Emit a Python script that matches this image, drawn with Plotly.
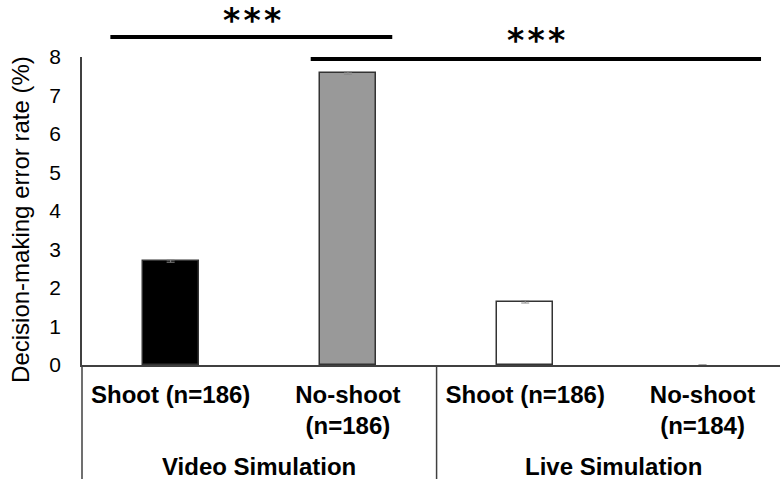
import plotly.graph_objects as go

categories = ["Shoot (n=186)", "No-shoot<br>(n=186)", "Shoot (n=186)", "No-shoot<br>(n=184)"]
cat_ids = [0, 1, 2, 3]
values = [2.70, 7.58, 1.64, 0.0]
errors = [0.03, 0.03, 0.03, 0.0]
bar_colors = ["#000000", "#999999", "#ffffff", "#ffffff"]
groups = ["Video Simulation", "Live Simulation"]
group_pos = [0.5, 2.5]
y_ticks = [0, 1, 2, 3, 4, 5, 6, 7, 8]
y_title = "Decision-making error rate (%)"

FONT = "Liberation Sans, Arial, sans-serif"
AX = "#404040"

fig = go.Figure()
fig.add_trace(go.Bar(
    x=cat_ids, y=values, width=0.316,
    marker=dict(color=bar_colors, line=dict(color="#333333", width=[1.5, 1.5, 1.5, 0])),
    error_y=dict(type="data", array=errors, color="#888888", thickness=1, width=4),
    showlegend=False,
))

fig.update_layout(
    width=780, height=479,
    margin=dict(l=82, r=0, t=57, b=114, autoexpand=False),
    paper_bgcolor="white", plot_bgcolor="white",
    font=dict(family=FONT, color="black"),
    bargap=0,
)
fig.update_xaxes(
    range=[-0.5, 3.437], tickmode="array", tickvals=cat_ids,
    ticktext=["<b>%s</b>" % c for c in categories],
    tickfont=dict(size=24, family=FONT, color="black"),
    showline=True, linecolor=AX, linewidth=1.5, ticks="", showgrid=False,
    zeroline=False, ticklabelstandoff=7, automargin=False,
)
fig.update_yaxes(
    range=[0, 8], tickvals=y_ticks, tickfont=dict(size=21, family=FONT, color="black"),
    showline=True, linecolor=AX, linewidth=1.5, ticks="", showgrid=False, zeroline=False,
    ticklabelstandoff=15, automargin=False,
)
fig.add_annotation(x=-61 / 698, xref="paper", y=0.471, yref="paper", text=y_title,
                   textangle=-90, showarrow=False,
                   font=dict(size=24, family=FONT, color="black"),
                   xanchor="center", yanchor="middle")

# group dividers
fig.add_shape(type="line", xref="paper", yref="paper", x0=0, x1=0, y0=0, y1=-0.375,
              line=dict(color=AX, width=1.5))
fig.add_shape(type="line", xref="x", yref="paper", x0=1.5, x1=1.5, y0=0, y1=-0.375,
              line=dict(color=AX, width=1.5))

for g, p in zip(groups, group_pos):
    fig.add_annotation(x=p, xref="x", y=-0.331, yref="paper", text="<b>%s</b>" % g,
                       showarrow=False, font=dict(size=24, family=FONT, color="black"),
                       yanchor="middle")

# significance brackets: (x0, x1, line y, star x, star y)
sig = [(-0.34, 1.25, 1.065, 0.46, 1.118), (0.79, 3.33, 0.9935, 2.06, 1.052)]
for x0, x1, yl, xs, ys in sig:
    fig.add_shape(type="line", xref="x", yref="paper", x0=x0, x1=x1, y0=yl, y1=yl,
                  line=dict(color="black", width=4))
    fig.add_annotation(x=xs, xref="x", y=ys, yref="paper",
                       text="<b>*\u200a*\u200a*</b>", showarrow=False,
                       font=dict(size=33, family="DejaVu Sans", color="black"), yanchor="middle")

fig.write_html("out.html", config={"displayModeBar": False},
               post_script="document.body.style.margin='0';")
